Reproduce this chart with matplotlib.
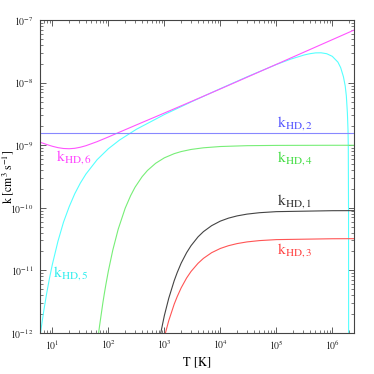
import matplotlib
matplotlib.use("Agg")
import matplotlib.pyplot as plt

plt.rcParams['font.family'] = 'STIXGeneral'
plt.rcParams['mathtext.fontset'] = 'stix'

# ---- data ----
T_k1 = [800, 1000, 1200, 1500, 1700, 2000, 2500, 3000, 4000, 5000, 7000,
        1e4, 1.4e4, 2e4, 3e4, 5e4, 1e5, 1e6, 2.5e6]
k1 = [7.1e-13, 1.87e-12, 3.56e-12, 6.79e-12, 9.2e-12, 1.30e-11, 1.91e-11,
      2.47e-11, 3.42e-11, 4.15e-11, 5.17e-11, 6.11e-11, 6.82e-11, 7.41e-11,
      7.91e-11, 8.33e-11, 8.66e-11, 8.97e-11, 8.99e-11]

T_k2 = [6.1, 2.5e6]
k2 = [1.6e-9, 1.6e-9]

T_k3 = [950, 1000, 1200, 1500, 1700, 2000, 2500, 3000, 4000, 5000, 7000,
        1e4, 1.4e4, 2e4, 3e4, 5e4, 1e5, 1e6, 2.5e6]
k3 = [7.05e-13, 8.5e-13, 1.56e-12, 2.86e-12, 3.79e-12, 5.23e-12, 7.51e-12,
      9.56e-12, 1.29e-11, 1.55e-11, 1.91e-11, 2.23e-11, 2.47e-11, 2.67e-11,
      2.84e-11, 2.98e-11, 3.09e-11, 3.19e-11, 3.20e-11]

T_k4 = [60, 66, 70, 80, 85, 90, 100, 120, 150, 200, 250, 300, 400, 500, 700,
        1000, 1500, 2000, 3000, 5000, 1e4, 3e4, 1e5, 1e6, 2.5e6]
k4 = [4.4e-13, 8.9e-13, 1.32e-12, 3.03e-12, 4.26e-12, 5.77e-12, 9.66e-12,
      2.09e-11, 4.53e-11, 9.83e-11, 1.56e-10, 2.13e-10, 3.13e-10, 3.95e-10,
      5.15e-10, 6.29e-10, 7.34e-10, 7.93e-10, 8.57e-10, 9.11e-10, 9.55e-10,
      9.85e-10, 9.95e-10, 1.0e-9, 1.0e-9]

T_k5 = [6.03, 6.31, 7.08, 7.94, 8.91, 10, 12.6, 15.8, 20.0, 25.1, 31.6, 39.8,
        63.1, 100, 158, 316, 1e3, 3.16e3, 1e4, 3.16e4, 1e5, 1.78e5, 3.16e5,
        3.98e5, 5.01e5, 6.31e5, 7.94e5, 1e6, 1.26e6, 1.41e6, 1.58e6, 1.70e6,
        1.78e6, 1.86e6, 1.91e6, 1.93e6, 1.95e6, 1.96e6]
k5 = [8.7e-13, 1.17e-12, 2.33e-12, 4.31e-12, 7.50e-12, 1.235e-11, 2.91e-11,
      5.85e-11, 1.04e-10, 1.67e-10, 2.48e-10, 3.46e-10, 5.88e-10, 8.79e-10,
      1.21e-9, 1.80e-9, 3.10e-9, 5.04e-9, 8.05e-9, 1.27e-8, 1.96e-8, 2.38e-8,
      2.79e-8, 2.92e-8, 3.01e-8, 3.02e-8, 2.92e-8, 2.65e-8, 2.14e-8, 1.75e-8,
      1.25e-8, 8.9e-9, 6.2e-9, 3.3e-9, 1.7e-9, 9e-10, 8e-11, 1e-13]

T_k6 = [6.03, 7.94, 10, 12.6, 15.8, 20.0, 25.1, 31.6, 39.8, 63.1, 100, 158,
        316, 1e3, 3.16e3, 1e4, 1e5, 1e6, 2.51e6]
k6 = [1.120e-9, 1.028e-9, 9.64e-10, 9.16e-10, 8.88e-10, 8.80e-10, 8.94e-10,
      9.30e-10, 9.84e-10, 1.143e-9, 1.357e-9, 1.621e-9, 2.114e-9, 3.278e-9,
      5.10e-9, 7.97e-9, 1.971e-8, 4.90e-8, 7.05e-8]

labels = [r'$\mathrm{k}_{\mathrm{HD,1}}$', r'$\mathrm{k}_{\mathrm{HD,2}}$',
          r'$\mathrm{k}_{\mathrm{HD,3}}$', r'$\mathrm{k}_{\mathrm{HD,4}}$',
          r'$\mathrm{k}_{\mathrm{HD,5}}$', r'$\mathrm{k}_{\mathrm{HD,6}}$']

# ---- figure ----
fig = plt.figure(figsize=(3.74, 3.74), dpi=100)
ax = fig.add_axes([0.1078, 0.1104, 0.8395, 0.8353])

lw = 0.8
ax.plot(T_k5, k5, color='#55ffff', lw=lw)
ax.plot(T_k6, k6, color='#ff55ff', lw=lw)
ax.plot(T_k2, k2, color='#8888ff', lw=lw)
ax.plot(T_k4, k4, color='#77ee77', lw=lw)
ax.plot(T_k1, k1, color='#444444', lw=lw)
ax.plot(T_k3, k3, color='#ff5555', lw=lw)

ax.set_xscale('log')
ax.set_yscale('log')
ax.set_xlim(6.1, 2.47e6)
ax.set_ylim(1e-12, 1e-7)

fs = 11.5
ax.text(11.5, 5.65e-10, labels[5], color='#ff44ff', fontsize=fs, va='baseline')
ax.text(10.4, 8.0e-12, labels[4], color='#33eeee', fontsize=fs, va='baseline')
ax.text(1.02e5, 2.0e-9, labels[1], color='#5555ff', fontsize=fs, va='baseline')
ax.text(1.02e5, 5.55e-10, labels[3], color='#44dd44', fontsize=fs, va='baseline')
ax.text(1.02e5, 1.12e-10, labels[0], color='#333333', fontsize=fs, va='baseline')
ax.text(1.02e5, 1.83e-11, labels[2], color='#ff4444', fontsize=fs, va='baseline')

ax.set_xlabel('T [K]', fontsize=9)
ax.set_ylabel(r'$\mathrm{k}\ [\mathrm{cm}^{3}\ \mathrm{s}^{-1}]$', fontsize=8.5)
ax.xaxis.set_label_coords(0.5, -0.075)
ax.yaxis.set_label_coords(-0.079, 0.5)

for sp in ax.spines.values():
    sp.set_color('#444444')
    sp.set_linewidth(0.8)
ax.tick_params(which='both', direction='in', top=True, right=True,
               colors='#444444', labelcolor='#222222', labelsize=7)
ax.tick_params(which='major', length=4.5, width=0.6)
ax.tick_params(which='minor', length=2.3, width=0.5)
ax.tick_params(axis='y', pad=5)
ax.tick_params(axis='x', pad=4)

fig.savefig('out.png', dpi=100)
